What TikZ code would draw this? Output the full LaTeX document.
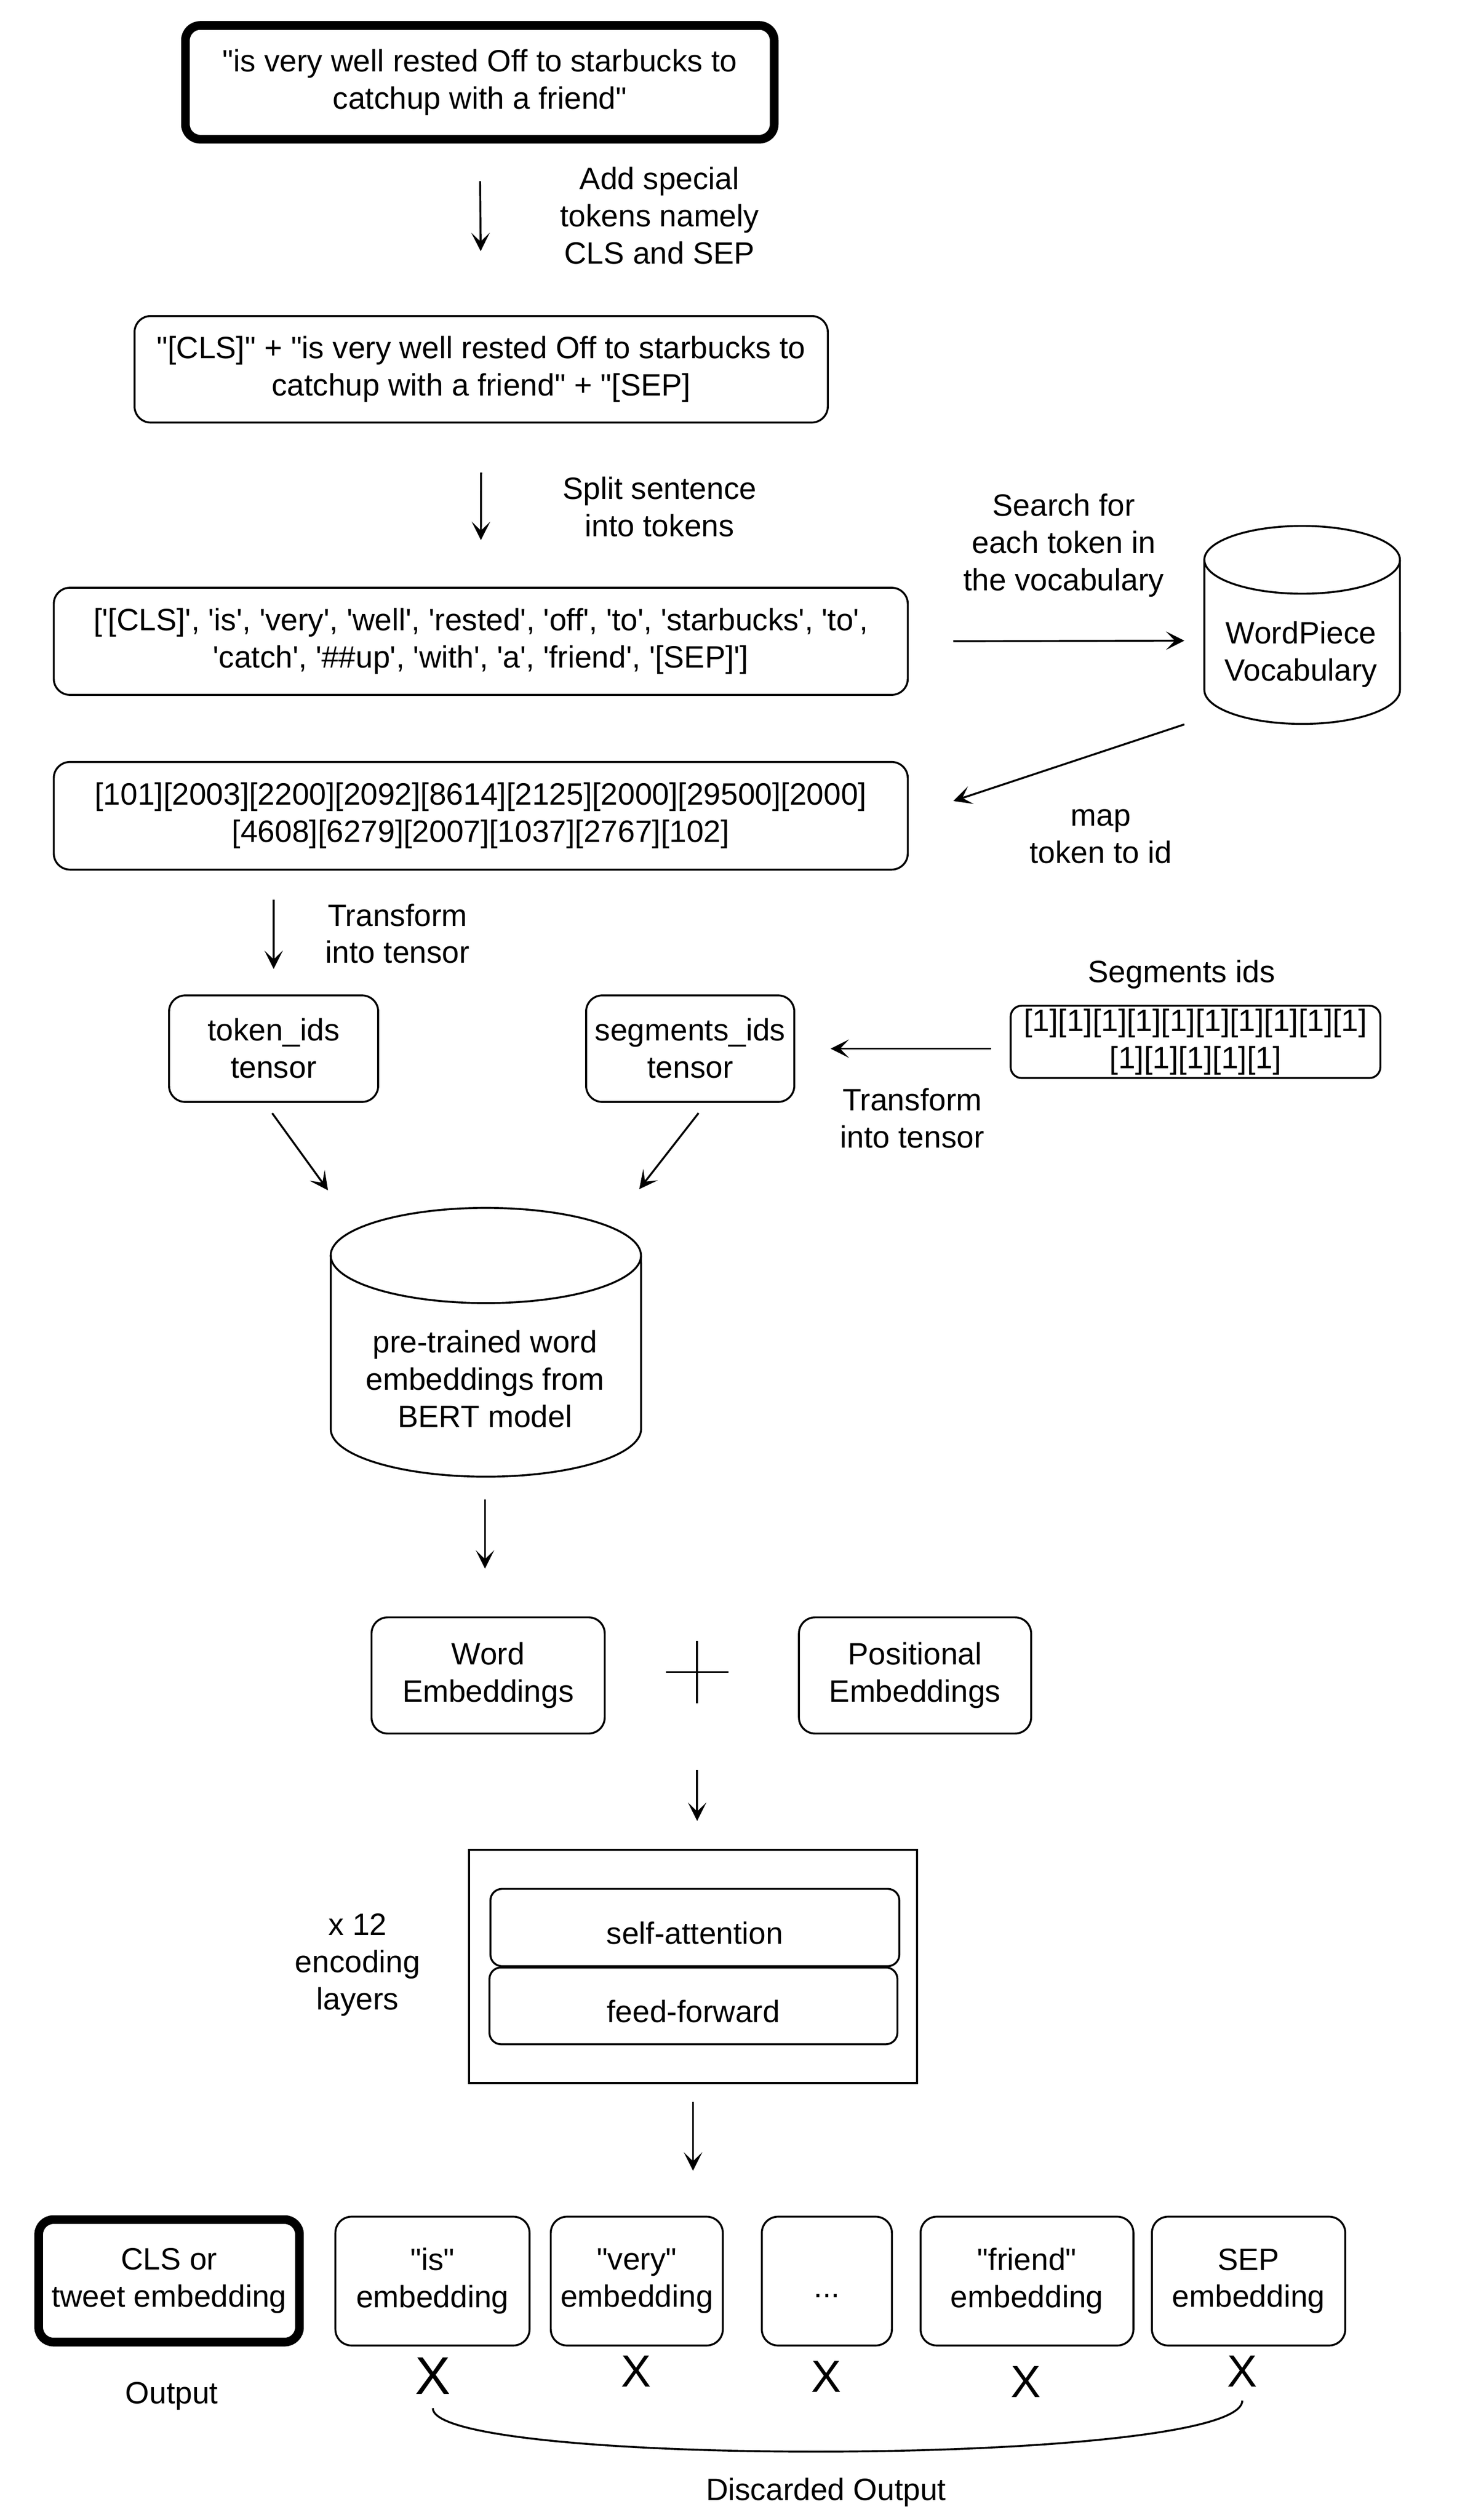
\documentclass[tikz,border=0pt]{standalone}
\usepackage{fontspec}
\setmainfont{Liberation Sans}[Ligatures=TeXOff]
\usetikzlibrary{arrows.meta}
\newcommand{\tstrut}{\rule[-0.6pt]{0pt}{15.8pt}}
\tikzset{font=\fontsize{13.6pt}{16.4pt}\selectfont}
\tikzset{
	txt/.style={align=center, inner sep=0pt, execute at begin node=\tstrut, execute at end node=\tstrut},
	box/.style={txt, draw, rounded corners=0.25cm},
	thickbox/.style={box, line width=3.84pt, rounded corners=0.23cm},
	arr/.style={-{Stealth[length=8.1pt, width=8.1pt, inset=3.9pt]}},
	xmark/.style={inner sep=0.2cm, font=\fontsize{19.9pt}{24pt}\selectfont},
}

\begin{document}
\begin{tikzpicture}[x=0.025cm, y=-0.025cm, line width=0.85pt]
	\fill[white] (0,0) rectangle (902.8,1562);
	\useasboundingbox (0,0) rectangle (902.8,1562);

	\node[thickbox, minimum width=9.12cm, minimum height=1.7625cm] (tweet) at (297.4,51.05) {"is very well rested Off to starbucks to\\catchup with a friend"};
	\node[box, minimum width=10.74cm, minimum height=1.65cm] (special) at (298.25,228.9) {"[CLS]" + "is very well rested Off to starbucks to\\catchup with a friend" + "[SEP]};
	\node[box, minimum width=13.23cm, minimum height=1.66cm] (tokens) at (298,397.5) {['[CLS]', 'is', 'very', 'well', 'rested', 'off', 'to', 'starbucks', 'to',\\'catch', '\#\#up', 'with', 'a', 'friend', '[SEP]']};
	\node[box, minimum width=13.23cm, minimum height=1.6675cm] (ids) at (298,505.65) {[101][2003][2200][2092][8614][2125][2000][29500][2000]\\{}[4608][6279][2007][1037][2767][102]};

	\node[txt] (lblspecial) at (408.8,133.9) {Add special\\tokens namely\\CLS and SEP};
	\node[txt] (lblsplit) at (408.8,314.5) {Split sentence\\into tokens};
	\node[txt] (lblsearch) at (659.3,338.1) {Search for\\each token in\\the vocabulary};
	\node[txt] (lblmap) at (682.3,518.8) {map\\token to id};

	\draw (746.5,347) -- (746.5,427.7) arc (180:360:1.515cm and 0.525cm) -- (867.7,347) arc (0:180:1.515cm and 0.525cm) -- cycle;
	\draw (746.5,347) arc (180:360:1.515cm and 0.525cm);
	\node[txt] (vocab) at (806.4,405.7) {WordPiece\\Vocabulary};
	\coordinate (vocabin) at (734.1,397.1);
	\coordinate (vocabout) at (734.1,449);

	\node[box, minimum width=3.24cm, minimum height=1.65cm] (tokenids) at (169.6,650) {token\_ids\\tensor};
	\node[box, minimum width=3.225cm, minimum height=1.65cm] (segtensor) at (427.8,650) {segments\_ids\\tensor};
	\node[box, rounded corners=0.17cm, minimum width=5.7275cm, minimum height=1.12cm] (segbox) at (741,645.8) {[1][1][1][1][1][1][1][1][1][1]\\{}[1][1][1][1][1]};
	\node[txt] (lbltrans1) at (246.4,579) {Transform\\into tensor};
	\node[txt] (lblsegids) at (732.4,600.4) {Segments ids};
	\node[txt] (lbltrans2) at (565.4,693.5) {Transform\\into tensor};

	\draw (205,778.2) -- (205,885.8) arc (180:360:2.40375cm and 0.7375cm) -- (397.3,778.2) arc (0:180:2.40375cm and 0.7375cm) -- cycle;
	\draw (205,778.2) arc (180:360:2.40375cm and 0.7375cm);
	\node[txt] (bert) at (300.6,855.1) {pre-trained word\\embeddings from\\BERT model};
	\coordinate (bertin1) at (203.3,737.8);
	\coordinate (bertin2) at (396.2,737.1);
	\coordinate (bertout) at (300.6,915.3);

	\node[box, minimum width=3.6125cm, minimum height=1.8cm] (wordemb) at (302.55,1038.5) {Word\\Embeddings};
	\node[box, minimum width=3.5975cm, minimum height=1.8cm] (posemb) at (567.15,1038.5) {Positional\\Embeddings};
	\node[minimum size=0.965cm, inner sep=0pt, outer sep=0pt] (plus) at (432.1,1036.4) {};

	\node[draw, minimum width=6.9375cm, minimum height=3.6125cm] (encoder) at (429.55,1218.95) {};
	\node[box, rounded corners=0.18cm, minimum width=6.335cm, minimum height=1.1975cm] (selfatt) at (430.7,1194.75) {self-attention};
	\node[box, rounded corners=0.18cm, minimum width=6.32cm, minimum height=1.19cm] (feedfwd) at (429.8,1243.3) {feed-forward};
	\node[txt] (lbllayers) at (221.7,1218) {x 12\\encoding\\layers};

	\node[thickbox, minimum width=4.04cm, minimum height=1.8975cm] (cls) at (104.8,1413.75) {CLS or\\tweet embedding};
	\node[box, minimum width=3.0075cm, minimum height=1.995cm] (is) at (268.05,1413.9) {"is"\\embedding};
	\node[box, minimum width=2.665cm, minimum height=1.995cm] (very) at (394.7,1413.9) {"very"\\embedding};
	\node[box, minimum width=2.015cm, minimum height=1.995cm] (dots) at (512.5,1413.9) {...};
	\node[box, minimum width=3.2975cm, minimum height=1.995cm] (friend) at (636.55,1413.9) {"friend"\\embedding};
	\node[box, minimum width=2.995cm, minimum height=1.995cm] (sep) at (773.9,1413.9) {SEP\\embedding};

	\node[xmark, font=\fontsize{23.4pt}{28pt}\selectfont] (xis) at (268.3,1472.8) {X};
	\node[xmark] (xvery) at (394.2,1469.7) {X};
	\node[xmark] (xdots) at (512.3,1473) {X};
	\node[xmark] (xfriend) at (636,1476.5) {X};
	\node[xmark] (xsep) at (770,1469.7) {X};
	\node[txt] (lbloutput) at (106.5,1481.3) {Output};
	\node[txt] (lbldiscard) at (512,1541.1) {Discarded Output};

	\draw[arr, shorten <=0.5825cm, shorten >=0.99cm] (tweet.south) -- (special.north);
	\draw[arr, shorten <=0.76cm, shorten >=0.7225cm] (special.south) -- (tokens.north);
	\draw[arr, shorten <=0.69cm] (tokens.east) -- (vocabin);
	\draw[arr, shorten >=0.7275cm] (vocabout) -- (ids.east);
	\draw[arr, shorten <=0.45cm, shorten >=0.395cm] (ids.south -| tokenids.north) -- (tokenids.north);
	\draw[arr, shorten <=0.2875cm, shorten >=0.5475cm] (segbox.west |- segtensor.east) -- (segtensor.east);
	\draw[arr, shorten <=0.197cm] ([xshift=-0.1375cm]tokenids.south) -- (bertin1);
	\draw[arr, shorten <=0.2cm] ([xshift=0.2525cm]segtensor.south) -- (bertin2);
	\draw[arr, shorten <=0.3525cm, shorten >=0.74cm] (bertout) -- (bertout |- wordemb.north);
	\draw (plus.west) -- (plus.east) (plus.north) -- (plus.south);
	\draw[arr, shorten <=1.035cm, shorten >=0.435cm] (plus.south) -- (plus.south |- encoder.north);
	\draw[arr, shorten <=0.275cm, shorten >=0.6975cm] (encoder.south) -- (encoder.south |- very.north);
	\draw (xis.south) .. controls +(0,37) and +(0,41) .. (xsep.south);
\end{tikzpicture}
\end{document}
